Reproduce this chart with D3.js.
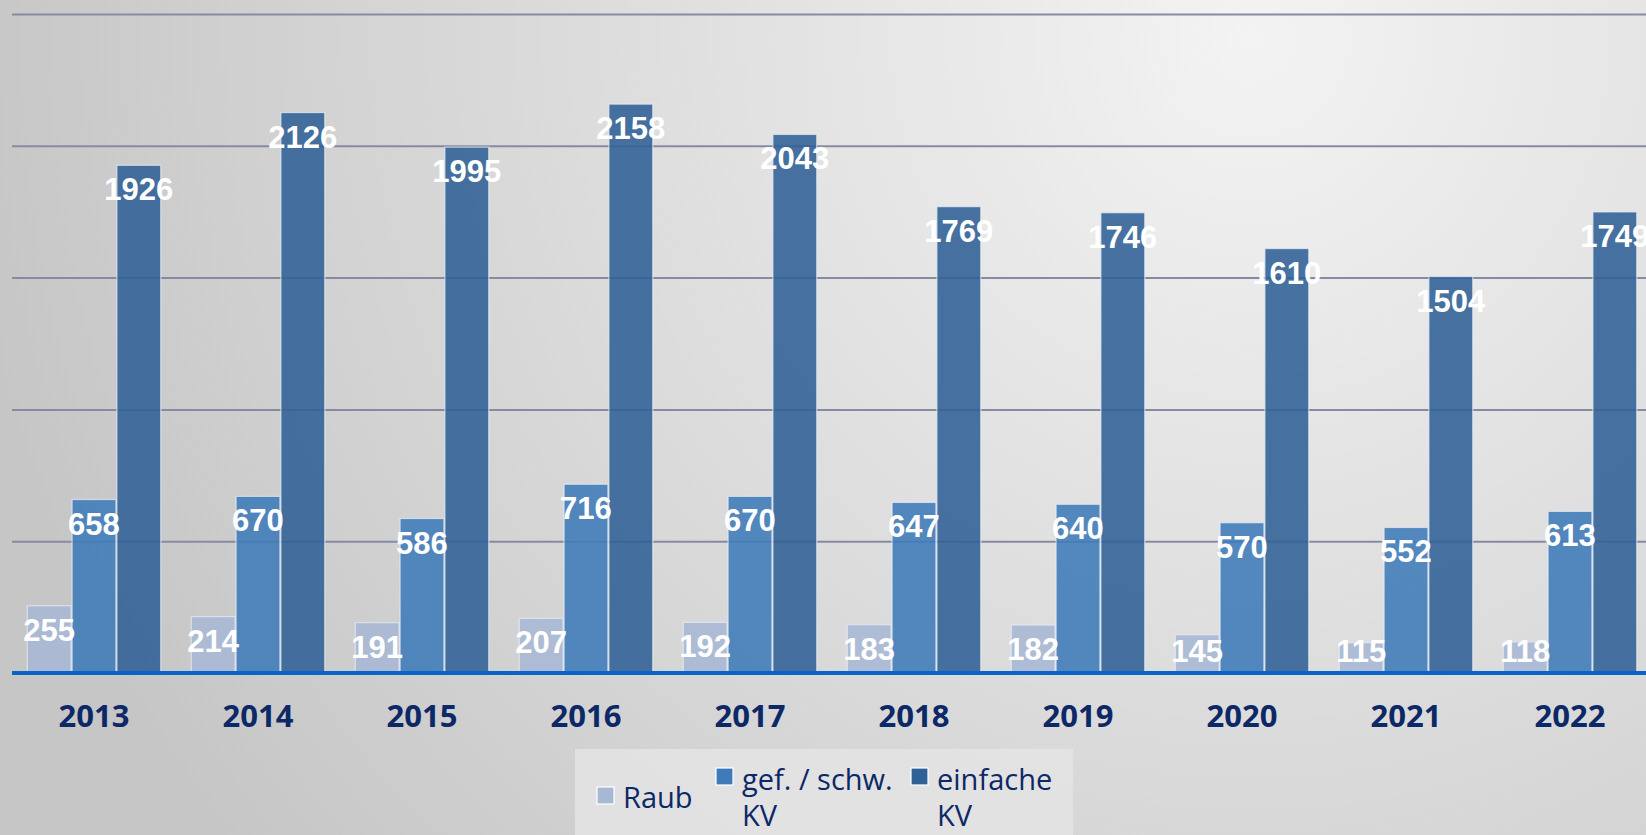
<!DOCTYPE html>
<html>
<head>
<meta charset="utf-8">
<script src="https://cdn.jsdelivr.net/npm/d3@7"></script>
<style>
  html, body { margin: 0; padding: 0; overflow: hidden; }
  svg { display: block; }
</style>
</head>
<body>
<svg id="chart"></svg>
<script>
// data
const years = ["2013", "2014", "2015", "2016", "2017", "2018", "2019", "2020", "2021", "2022"];
const seriesNames = ["Raub", "gef. / schw. KV", "einfache KV"];
const raub = [255, 214, 191, 207, 192, 183, 182, 145, 115, 118];
const gefSchw = [658, 670, 586, 716, 670, 647, 640, 570, 552, 613];
const einfache = [1926, 2126, 1995, 2158, 2043, 1769, 1746, 1610, 1504, 1749];
const yTicks = [0, 500, 1000, 1500, 2000, 2500];

const W = 1646, H = 835;
const colors = ["#a7b8d4", "#3f7bb9", "#2f6096"];

const svg = d3.select("#chart").attr("width", W).attr("height", H);

// background gradient
const defs = svg.append("defs");
const grad = defs.append("radialGradient")
  .attr("id", "bg")
  .attr("gradientUnits", "userSpaceOnUse")
  .attr("cx", 1250).attr("cy", 40).attr("r", 1300);
grad.append("stop").attr("offset", "0%").attr("stop-color", "#f3f3f3");
grad.append("stop").attr("offset", "100%").attr("stop-color", "#c6c6c6");
svg.append("rect").attr("width", W).attr("height", H).attr("fill", "url(#bg)");

const x = d3.scaleBand().domain(years).range([12, 1652]).paddingInner(0.18).paddingOuter(0.09);
const xs = d3.scaleBand().domain(seriesNames).range([0, x.bandwidth()]);
const y = d3.scaleLinear().domain([0, 2500]).range([673, 14]);

// gridlines
svg.append("g")
  .attr("transform", "translate(12,0)")
  .call(d3.axisLeft(y).tickValues(yTicks.slice(1)).tickSize(-(W - 12)).tickFormat(""))
  .call(g => g.select(".domain").remove())
  .call(g => g.selectAll("line").attr("stroke", "#878ba1").attr("stroke-width", 2));

const rows = years.map((yr, i) => ({
  year: yr,
  values: [raub[i], gefSchw[i], einfache[i]].map((v, k) => ({ key: seriesNames[k], value: v, k }))
}));

const groups = svg.append("g").selectAll("g")
  .data(rows)
  .join("g")
  .attr("transform", d => "translate(" + x(d.year) + ",0)");

groups.selectAll("rect")
  .data(d => d.values)
  .join("rect")
  .attr("x", d => xs(d.key) + 0.5)
  .attr("y", d => y(d.value))
  .attr("width", xs.bandwidth() - 1)
  .attr("height", d => y(0) - y(d.value))
  .attr("fill", d => colors[d.k])
  .attr("fill-opacity", 0.88)
  .attr("stroke", "#e8eef6")
  .attr("stroke-opacity", 0.7)
  .attr("stroke-width", 1.2);

// baseline
svg.append("line")
  .attr("x1", 12).attr("x2", W)
  .attr("y1", y(0)).attr("y2", y(0))
  .attr("stroke", "#0a63c8").attr("stroke-width", 4);

// value labels
groups.selectAll("text.val")
  .data(d => d.values)
  .join("text")
  .attr("class", "val")
  .attr("x", d => xs(d.key) + xs.bandwidth() / 2)
  .attr("y", d => Math.min(y(d.value) + 35, 662))
  .attr("text-anchor", "middle")
  .attr("font-family", "'Liberation Sans', Arial, sans-serif")
  .attr("font-weight", "bold")
  .attr("font-size", 31)
  .attr("fill", "#ffffff")
  .text(d => d.value);

// year labels
svg.append("g").selectAll("text")
  .data(years)
  .join("text")
  .attr("x", d => x(d) + x.bandwidth() / 2)
  .attr("y", 727)
  .attr("text-anchor", "middle")
  .attr("font-family", "'Open Sans', 'Noto Sans', sans-serif")
  .attr("font-weight", "bold")
  .attr("font-size", 31)
  .attr("fill", "#0c2866")
  .text(d => d);

// legend
const legend = svg.append("g");
legend.append("rect")
  .attr("x", 575).attr("y", 749).attr("width", 498).attr("height", 90)
  .attr("fill", "#e4e4e4").attr("fill-opacity", 0.85);

const legendLines = [["Raub"], ["gef. / schw.", "KV"], ["einfache", "KV"]];
const legendX = [597, 716, 911];
const items = legend.selectAll("g.item")
  .data(seriesNames)
  .join("g")
  .attr("class", "item");

items.append("rect")
  .attr("x", (d, i) => legendX[i])
  .attr("y", (d, i) => legendLines[i].length === 1 ? 787 : 768)
  .attr("width", 17).attr("height", 17)
  .attr("fill", (d, i) => colors[i])
  .attr("stroke", "#ffffff").attr("stroke-width", 1.2);

items.append("text")
  .attr("font-family", "'Open Sans', 'Noto Sans', sans-serif")
  .attr("font-size", 29)
  .attr("fill", "#0c2866")
  .each(function (d, i) {
    const lines = legendLines[i];
    const t = d3.select(this);
    lines.forEach((ln, j) => {
      t.append("tspan")
        .attr("x", legendX[i] + 26)
        .attr("y", lines.length === 1 ? 808 : 790 + j * 36)
        .text(ln);
    });
  });
</script>
</body>
</html>
